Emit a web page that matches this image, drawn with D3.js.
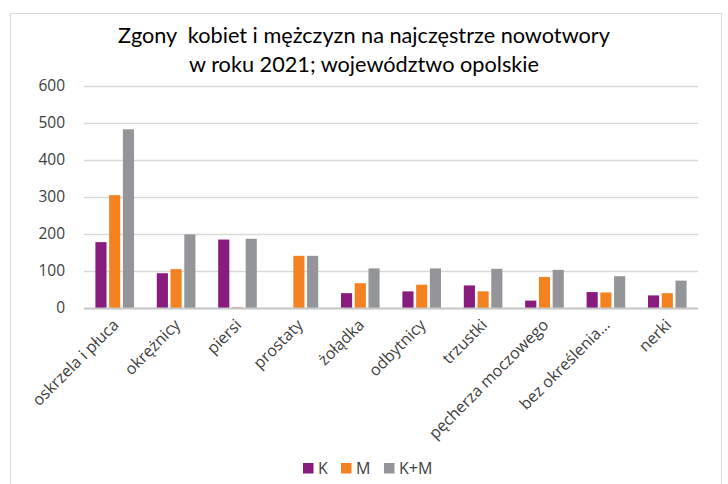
<!DOCTYPE html>
<html>
<head>
<meta charset="utf-8">
<script src="https://cdn.jsdelivr.net/npm/d3@7"></script>
<style>
  body { margin: 0; background: white; }
  text { font-family: "Open Sans", sans-serif; }
</style>
</head>
<body>
<main></main>
<script>
// values
let categories = ["oskrzela i płuca", "okrężnicy", "piersi", "prostaty", "żołądka",
                  "odbytnicy", "trzustki", "pęcherza moczowego", "bez określenia…", "nerki"]
let valuesK  = [178, 94, 185, 0, 40, 45, 61, 20, 43, 34]
let valuesM  = [305, 105, 2, 141, 67, 63, 45, 84, 42, 40]
let valuesKM = [483, 199, 187, 141, 107, 107, 106, 103, 86, 74]
let seriesNames = ["K", "M", "K+M"]
let yTicks = [0, 100, 200, 300, 400, 500, 600]

let colors = ["#871b7e", "#f58220", "#939598"]

const svgWidth = 728
const svgHeight = 484

// plot area
const plotLeft = 84
const plotRight = 698
const plotTop = 86
const plotBottom = 308

let svg = d3.select("main")
    .append("svg")
    .attr("width", svgWidth)
    .attr("height", svgHeight)

// chart border
svg.append("rect")
    .attr("x", 10.5)
    .attr("y", 13.5)
    .attr("width", 711)
    .attr("height", 500)
    .attr("fill", "white")
    .attr("stroke", "#d9d9d9")
    .attr("stroke-width", 1)

// title
let title = svg.append("text")
    .attr("text-anchor", "middle")
    .attr("fill", "#000")
    .attr("xml:space", "preserve")
    .style("font-family", "Lato, sans-serif")
    .style("font-size", "21.7px")
title.append("tspan").attr("x", 364).attr("y", 43).text("Zgony  kobiet i mężczyzn na najczęstrze nowotwory")
title.append("tspan").attr("x", 364).attr("y", 72).text("w roku 2021; województwo opolskie")

// scales
let xScale = d3.scaleBand()
    .domain(categories)
    .range([plotLeft, plotRight])

let yScale = d3.scaleLinear()
    .domain([0, 600])
    .range([plotBottom, plotTop])

let xInner = d3.scaleBand()
    .domain(seriesNames)
    .range([-19.3, 19.3])
    .paddingInner(0.19)

// gridlines + y labels
let leftAxis = d3.axisLeft(yScale)
    .tickValues(yTicks)
    .tickSize(-(plotRight - plotLeft))
    .tickPadding(19)

let yAxis = svg.append("g")
    .attr("transform", `translate(${plotLeft}, 0)`)
    .call(leftAxis)

yAxis.select(".domain").remove()
yAxis.selectAll("line")
    .attr("stroke", "#d9d9d9")
    .attr("stroke-width", 1.5)
yAxis.selectAll("text")
    .attr("fill", "#404040")
    .style("font-size", "15.5px")
    .style("font-family", "'Open Sans', sans-serif")

// bars
let table = categories.map((c, i) => ({ cat: c, vals: [valuesK[i], valuesM[i], valuesKM[i]] }))

let groups = svg.append("g")
    .selectAll("g")
    .data(table)
    .enter()
    .append("g")
    .attr("transform", d => `translate(${xScale(d.cat) + xScale.bandwidth() / 2}, 0)`)

groups.selectAll("rect")
    .data(d => d.vals.map((v, j) => ({ name: seriesNames[j], value: v, color: colors[j] })))
    .enter()
    .append("rect")
    .attr("x", d => xInner(d.name))
    .attr("width", xInner.bandwidth())
    .attr("y", d => yScale(d.value))
    .attr("height", d => yScale(0) - yScale(d.value))
    .attr("fill", d => d.color)

// x axis baseline
svg.append("line")
    .attr("x1", plotLeft)
    .attr("x2", plotRight)
    .attr("y1", plotBottom + 0.5)
    .attr("y2", plotBottom + 0.5)
    .attr("stroke", "#c8c8c8")
    .attr("stroke-width", 2)

// category labels, rotated
svg.append("g")
    .selectAll("text")
    .data(categories)
    .enter()
    .append("text")
    .attr("transform", d => `translate(${xScale(d) + xScale.bandwidth() / 2 + 1}, ${plotBottom + 14}) rotate(-45)`)
    .attr("text-anchor", "end")
    .attr("dy", "0.35em")
    .attr("fill", "#404040")
    .style("font-size", "16px")
    .text(d => d)

// legend
let legendX = [303, 341, 384]
let legend = svg.append("g")
    .selectAll("g")
    .data(seriesNames)
    .enter()
    .append("g")
    .attr("transform", (d, i) => `translate(${legendX[i]}, 463)`)

legend.append("rect")
    .attr("width", 10.5)
    .attr("height", 10.5)
    .attr("fill", (d, i) => colors[i])

legend.append("text")
    .attr("x", 15)
    .attr("y", 10.8)
    .attr("fill", "#404040")
    .style("font-size", "16px")
    .text(d => d)
</script>
</body>
</html>
